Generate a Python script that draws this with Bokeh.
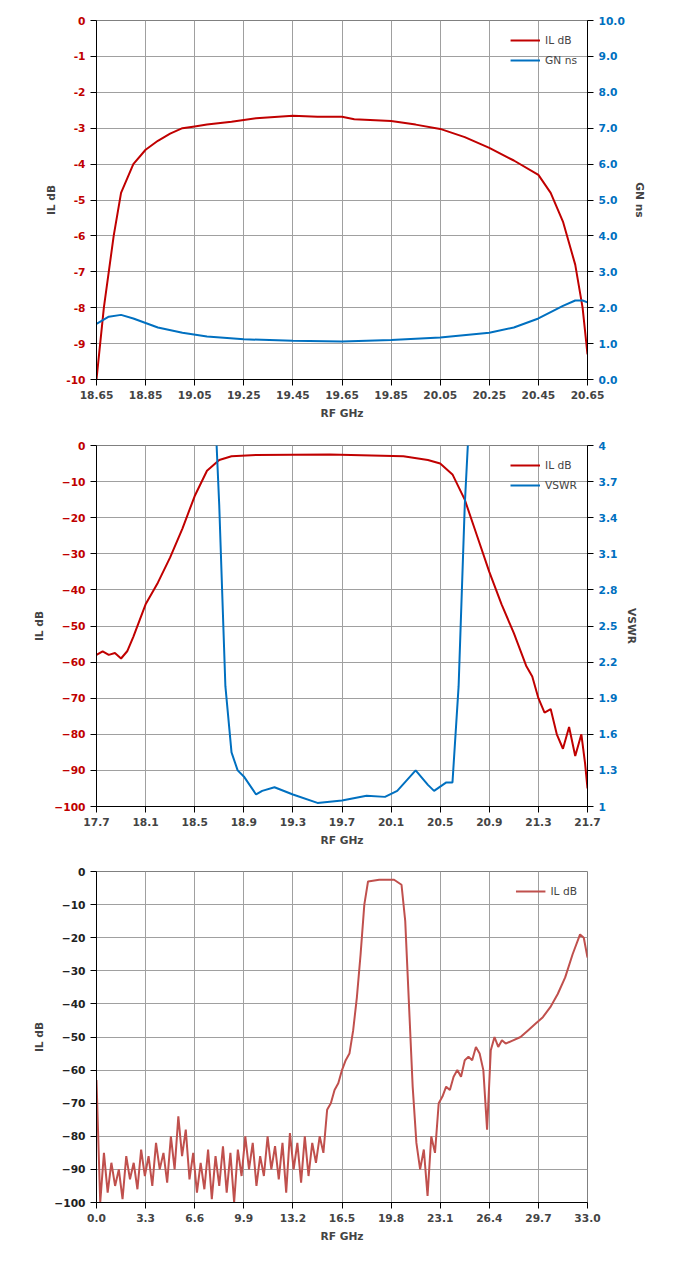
import math
from bokeh.plotting import figure
from bokeh.models import Range1d, LinearAxis, FixedTicker, Legend, LegendItem
from bokeh.layouts import column
from bokeh.embed import file_html
from bokeh.resources import INLINE

RED = "#c00000"; BLUE = "#0070c0"; RED3 = "#c0504d"

# Chart 1
f1 = [18.65,18.68,18.72,18.75,18.8,18.85,18.9,18.95,19.0,19.05,19.1,19.2,19.3,19.45,19.55,19.65,19.7,19.85,19.95,20.05,20.15,20.25,20.35,20.45,20.5,20.55,20.6,20.63,20.65]
il1 = [-10,-8,-6,-4.8,-4.0,-3.6,-3.35,-3.15,-3.0,-2.95,-2.9,-2.82,-2.72,-2.65,-2.68,-2.68,-2.75,-2.8,-2.9,-3.02,-3.25,-3.55,-3.9,-4.3,-4.8,-5.6,-6.8,-8.0,-9.3]
fgn = [18.65,18.7,18.75,18.8,18.9,19.0,19.1,19.25,19.45,19.65,19.85,20.05,20.25,20.35,20.45,20.55,20.6,20.63,20.65]
gn = [1.55,1.75,1.8,1.7,1.45,1.3,1.2,1.12,1.08,1.06,1.1,1.17,1.3,1.45,1.7,2.05,2.2,2.2,2.15]
x1_ticks = [18.65,18.85,19.05,19.25,19.45,19.65,19.85,20.05,20.25,20.45,20.65]

# Chart 2
f2 = [17.7,17.75,17.8,17.85,17.9,17.95,18.0,18.1,18.2,18.3,18.4,18.5,18.6,18.7,18.8,19.0,19.6,20.2,20.4,20.5,20.6,20.7,20.8,20.9,21.0,21.1,21.2,21.25,21.3,21.35,21.4,21.45,21.5,21.55,21.6,21.65,21.68,21.7]
il2 = [-58,-57,-58,-57.5,-59,-57,-53,-44,-38,-31,-23,-14,-7,-4,-3,-2.6,-2.5,-3,-4,-5,-8,-15,-25,-35,-44,-52,-61,-64,-70,-74,-73,-80,-84,-78,-86,-80,-88,-95]
fv = [18.67,18.7,18.75,18.8,18.85,18.9,19.0,19.05,19.15,19.3,19.5,19.7,19.9,20.05,20.15,20.3,20.4,20.45,20.55,20.6,20.65,20.7,20.75]
vswr = [4.2,3.5,2.0,1.45,1.3,1.25,1.1,1.13,1.16,1.1,1.03,1.05,1.09,1.08,1.13,1.3,1.18,1.13,1.2,1.2,2.0,3.5,4.5]
x2_ticks = [17.7,18.1,18.5,18.9,19.3,19.7,20.1,20.5,20.9,21.3,21.7]
v_ticks = [1,1.3,1.6,1.9,2.2,2.5,2.8,3.1,3.4,3.7,4]

# Chart 3
f3 = [0,0.25,0.5,0.75,1,1.25,1.5,1.75,2,2.25,2.5,2.75,3,3.25,3.5,3.75,4,4.25,4.5,4.75,5,5.25,5.5,5.75,6,6.25,6.5,6.75,7,7.25,7.5,7.75,8,8.25,8.5,8.75,9,9.25,9.5,9.75,10,10.25,10.5,10.75,11,11.25,11.5,11.75,12,12.25,12.5,12.75,13,13.25,13.5,13.75,14,14.25,14.5,14.75,15,15.25,15.5,15.75,16,16.25,16.5,16.75,17,17.25,17.5,17.75,18,18.25,19,20,20.5,20.75,21,21.25,21.5,21.75,22,22.25,22.5,22.75,23,23.25,23.5,23.75,24,24.25,24.5,24.75,25,25.25,25.5,25.75,26,26.25,26.5,26.75,27,27.25,27.5,28,28.5,29,29.5,30,30.5,31,31.5,32,32.5,32.75,33]
il3 = [-63,-100,-85,-97,-88,-95,-90,-99,-86,-93,-88,-96,-84,-92,-86,-95,-82,-90,-85,-94,-80,-90,-74,-86,-78,-93,-85,-97,-88,-96,-84,-99,-86,-95,-83,-97,-85,-100,-84,-92,-80,-90,-82,-95,-86,-92,-80,-90,-83,-93,-82,-97,-79,-90,-82,-94,-80,-92,-82,-88,-80,-85,-72,-70,-66,-64,-60,-57,-55,-48,-38,-25,-10,-3,-2.5,-2.5,-4,-15,-40,-65,-82,-90,-84,-98,-80,-85,-70,-68,-65,-66,-62,-60,-62,-57,-56,-57,-53,-55,-60,-78,-54,-50,-53,-51,-52,-51,-50,-48,-46,-44,-41,-37,-32,-25,-19,-20,-26]
x3_ticks = [0,3.3,6.6,9.9,13.2,16.5,19.8,23.1,26.4,29.7,33.0]

FONT = "DejaVu Sans"

def base(h, top, bottom, xr, xt, yr, yt, xfmt):
    p = figure(width=667, height=h, output_backend="svg", toolbar_location=None,
               x_range=Range1d(*xr), y_range=Range1d(*yr),
               min_border_left=96, min_border_right=80, min_border_top=top, min_border_bottom=bottom)
    p.xaxis.ticker = FixedTicker(ticks=xt)
    p.yaxis.ticker = FixedTicker(ticks=yt)
    p.xaxis.major_label_overrides = {t: xfmt(t) for t in xt}
    for ax in (p.xaxis[0], p.yaxis[0]):
        ax.major_label_text_font = FONT
        ax.major_label_text_font_size = "8pt"
        ax.axis_label_text_font = FONT
        ax.axis_label_text_font_size = "8pt"
        ax.axis_label_text_font_style = "bold"
        ax.major_tick_in = 0; ax.minor_tick_line_color = None
    p.xaxis.major_label_text_font_style = "bold"
    p.xaxis.axis_label = "RF GHz"
    p.yaxis.axis_label = "IL dB"
    p.yaxis.major_label_text_color = RED
    p.yaxis.major_label_text_font_style = "bold"
    p.grid.grid_line_color = "#a0a0a0"
    p.outline_line_color = "#808080"
    p.background_fill_color = "white"
    return p

def raxis(name, ticks, label, overrides):
    ax = LinearAxis(y_range_name=name, ticker=FixedTicker(ticks=ticks), axis_label=label,
                    major_label_text_color=BLUE, major_label_text_font=FONT, major_label_text_font_size="8pt",
                    major_label_text_font_style="bold", axis_label_text_font=FONT, axis_label_text_font_size="8pt",
                    axis_label_text_font_style="bold", major_tick_in=0, minor_tick_line_color=None)
    ax.major_label_overrides = overrides
    return ax

def leg(p, items):
    L = Legend(items=items, location="top_right", border_line_color=None,
               label_text_font=FONT, label_text_font_size="8pt", glyph_width=30,
               background_fill_alpha=0, spacing=0, padding=2, label_height=14)
    p.add_layout(L)

# chart 1
p1 = base(425, 20, 46, (18.65, 20.65), x1_ticks, (-10, 0), list(range(-10, 1)), lambda t: f"{t:.2f}")
p1.yaxis.major_label_overrides = {t: str(t) for t in range(-10, 1)}
p1.extra_y_ranges = {"r": Range1d(0, 10)}
p1.add_layout(raxis("r", list(range(0, 11)), "GN ns", {t: f"{t:.1f}" for t in range(0, 11)}), "right")
a = p1.line(f1, il1, line_color=RED, line_width=2)
b = p1.line(fgn, gn, line_color=BLUE, line_width=2, y_range_name="r")
leg(p1, [LegendItem(label="IL dB", renderers=[a]), LegendItem(label="GN ns", renderers=[b])])

# chart 2
p2 = base(425, 20, 44, (17.7, 21.7), x2_ticks, (-100, 0), list(range(-100, 1, 10)), lambda t: f"{t:.1f}")
p2.extra_y_ranges = {"r": Range1d(1, 4)}
p2.add_layout(raxis("r", v_ticks, "VSWR", {t: (str(int(t)) if t == int(t) else str(t)) for t in v_ticks}), "right")
a = p2.line(f2, il2, line_color=RED, line_width=2)
b = p2.line(fv, vswr, line_color=BLUE, line_width=2, y_range_name="r")
leg(p2, [LegendItem(label="IL dB", renderers=[a]), LegendItem(label="VSWR", renderers=[b])])

# chart 3
p3 = base(400, 21, 48, (0, 33), x3_ticks, (-100, 0), list(range(-100, 1, 10)), lambda t: f"{t:.1f}")
p3.yaxis.major_label_text_color = "#222222"
a = p3.line(f3, il3, line_color=RED3, line_width=2)
leg(p3, [LegendItem(label="IL dB", renderers=[a])])

lay = column(p1, p2, p3, spacing=0)
open("out.html", "w").write(file_html(lay, INLINE))
